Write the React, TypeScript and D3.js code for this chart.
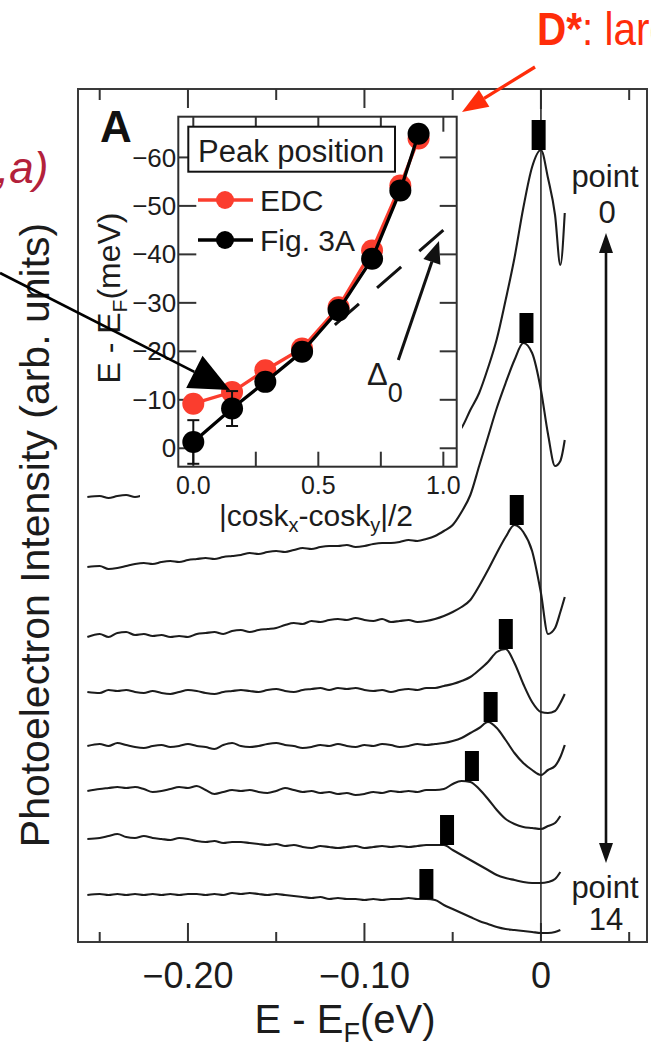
import React from "react";
import * as d3 from "d3";

// ---------- data ----------
// shared energy grid (eV) for the EDC traces
const energies = [
  -0.257, -0.25, -0.245, -0.24, -0.235, -0.23, -0.225, -0.22, -0.215, -0.21,
  -0.205, -0.2, -0.195, -0.19, -0.185, -0.18, -0.175, -0.17, -0.165, -0.16,
  -0.155, -0.15, -0.145, -0.14, -0.135, -0.13, -0.125, -0.12, -0.115, -0.11,
  -0.105, -0.1, -0.095, -0.09, -0.085, -0.08, -0.075, -0.07, -0.065, -0.06,
  -0.055, -0.05, -0.045, -0.04, -0.035, -0.03, -0.025, -0.02, -0.015, -0.01,
  -0.005, 0.0, 0.004, 0.008, 0.011, 0.0135,
];

// EDC intensities (arb. units, offset stacked), points 0 .. 14
const point0 = [445, 446, 444, 446, 447, 445, 447, 448, 448, 450, 450, 451, 452, 453, 453, 455, 455, 456, 457, 458, 458, 460, 461, 462, 463, 464, 465, 466, 467, 468, 469, 470, 471, 472, 474, 476, 478, 481, 485, 491, 498, 506, 514, 532, 549, 574, 603, 642, 684, 734, 775, 792, 764, 727, 677, 729];
const point2 = [375, 376, 373, 374, 376, 378, 379, 378, 380, 381, 380, 382, 383, 384, 383, 385, 386, 387, 389, 388, 390, 391, 390, 392, 394, 393, 395, 396, 396, 397, 395, 396, 398, 399, 399, 400, 402, 401, 403, 406, 411, 417, 430, 447, 476, 505, 534, 559, 582, 599, 589, 552, 508, 476, 481, 502];
const point4 = [305, 308, 305, 309, 310, 307, 308, 306, 307, 305, 306, 305, 308, 309, 310, 308, 311, 312, 310, 312, 313, 314, 317, 319, 318, 321, 320, 322, 323, 322, 324, 322, 321, 323, 320, 321, 322, 320, 321, 323, 326, 330, 335, 342, 356, 372, 389, 405, 417, 410, 391, 349, 308, 314, 330, 345];
const point6 = [250, 249, 252, 251, 252, 250, 249, 251, 249, 248, 250, 252, 251, 249, 248, 250, 251, 252, 251, 250, 252, 253, 251, 250, 252, 253, 254, 252, 254, 253, 254, 252, 251, 252, 250, 252, 253, 252, 254, 254, 256, 258, 261, 265, 272, 280, 290, 293, 279, 258, 240, 230, 229, 231, 239, 248];
const point8 = [196, 198, 196, 199, 197, 195, 194, 196, 197, 195, 196, 198, 196, 195, 193, 197, 199, 196, 195, 196, 198, 199, 197, 196, 194, 195, 197, 196, 198, 196, 195, 197, 196, 198, 197, 195, 196, 198, 197, 198, 199, 201, 204, 209, 214, 220, 214, 202, 189, 179, 172, 167, 172, 176, 185, 197];
const point10 = [151, 153, 154, 155, 154, 155, 153, 150, 151, 153, 155, 154, 156, 152, 148, 150, 152, 151, 152, 150, 149, 151, 154, 152, 150, 151, 149, 150, 148, 149, 147, 148, 150, 149, 151, 150, 151, 150, 152, 152, 153, 158, 161, 160, 153, 143, 132, 123, 118, 115, 114, 113, 116, 119, 126, null];
const point12 = [103, 104, 106, 108, 105, 104, 106, 104, 103, 102, 104, 103, 101, 100, 101, 99, 100, 100, 99, 98, 97, 98, 96, 97, 95, 94, 96, 95, 94, 95, 96, 94, 95, 96, 95, 96, 95, 96, 97, 97, 97, 92, 87, 82, 77, 72, 67, 64, 62, 60, 59, 59, 60, 63, 70, null];
const point14 = [47, 48, 47, 48, 47, 48, 47, 48, 47, 48, 47, 48, 48, 47, 48, 47, 49, 48, 49, 48, 47, 48, 47, 46, 45, 44, 45, 43, 44, 43, 43, 42, 43, 42, 43, 43, 44, 43, 43, 42, 37, 33, 29, 25, 21, 18, 15, 13, 12, 11, 10, 9, 9, 10, 12, null];
const traces = [point0, point2, point4, point6, point8, point10, point12, point14];

// inset: peak position vs |cos kx - cos ky|/2
const kFactor = [0.0, 0.155, 0.288, 0.435, 0.581, 0.715, 0.828, 0.901];
const peakFig3A = [-1.3, -8.2, -13.7, -19.9, -28.5, -39.1, -53.2, -64.9];
const peakEDC = [-9.2, -11.6, -16.1, -20.6, -29.1, -40.8, -54.2, -63.9];
const peakErr = [4.5, 3.6, 0, 0, 0, 0, 0, 0];
const delta0 = 45; // meV, d-wave line
const deltaLineK = [0.5, 1.0];

// ticks
const mainMajor = [-0.2, -0.1, 0];
const mainMinor = [-0.25, -0.15, -0.05, 0.05];
const mainTickLabels = ["\u22120.20", "\u22120.10", "0"];
const insetYTicks = [-60, -50, -40, -30, -20, -10, 0];
const insetXTicks = [0, 0.5, 1.0];
const insetXMinor = [0.25, 0.75];

// ---------- styles ----------
const FONT = "'Liberation Sans', Arial, Helvetica, sans-serif";
const INK = "#1c1c1c";
const RED = "#fb3d2e";
const BRIGHT_RED = "#ff2d0a";
const DARK_RED = "#b3213b";

function head(x1: number, y1: number, x2: number, y2: number, len: number, hw: number) {
  const dx = x2 - x1, dy = y2 - y1;
  const L = Math.hypot(dx, dy);
  const ux = dx / L, uy = dy / L;
  const bx = x2 - ux * len, by = y2 - uy * len;
  return {
    pts: `${x2},${y2} ${bx + uy * hw},${by - ux * hw} ${bx - uy * hw},${by + ux * hw}`,
    bx,
    by,
  };
}

export default function App() {
  const W = 651, H = 1047;
  const L = 78, T = 89, R = 647, B = 942;
  const x = d3.scaleLinear().domain([-0.2623, 0.0601]).range([L, R]);
  const y = d3.scaleLinear().domain([0, 853]).range([B, T]);

  const line = d3
    .line<[number, number | null]>()
    .defined((d) => d[1] !== null)
    .x((d) => x(d[0]))
    .y((d) => y(d[1] as number))
    .curve(d3.curveMonotoneX);

  // inset scales
  const iL = 178.3, iR = 456.7, iT = 116.7, iB = 466.7;
  const ix = d3.scaleLinear().domain([-0.06, 1.0534]).range([iL, iR]);
  const iy = d3.scaleLinear().domain([3.8, -68.4]).range([iB, iT]);
  const iline = d3
    .line<[number, number]>()
    .x((d) => ix(d[0]))
    .y((d) => iy(d[1]));

  const markers = traces.map((tr, i) => {
    const e = peakFig3A[i] / 1000;
    let best = -Infinity;
    energies.forEach((en, j) => {
      const v = tr[j];
      if (v !== null && Math.abs(en - e) <= 0.006 && v > best) best = v;
    });
    return { cx: x(e), yb: y(best) };
  });

  const redArrow = head(535, 67, 462, 112, 26, 10);
  const blackArrow = head(0, 273, 230, 390, 40, 18);
  const deltaArrow = head(398.3, 360, 439, 241, 22, 9);
  const upHead = head(606, 300, 606, 233, 20, 7);
  const downHead = head(606, 800, 606, 863, 20, 7);

  return (
    <svg
      width={W}
      height={H}
      viewBox={`0 0 ${W} ${H}`}
      style={{ position: "absolute", left: 0, top: 0, background: "#fff" }}
      fontFamily={FONT}
    >
      <rect x={0} y={0} width={W} height={H} fill="#fff" />

      {/* main frame */}
      <rect x={L} y={T} width={R - L} height={B - T} fill="none" stroke="#3a3a3a" strokeWidth={2} />
      {mainMajor.map((t) => (
        <g key={"M" + t}>
          <line x1={x(t)} x2={x(t)} y1={T} y2={T + 20} stroke="#333" strokeWidth={2} />
          <line x1={x(t)} x2={x(t)} y1={B} y2={B - 19} stroke="#333" strokeWidth={2} />
        </g>
      ))}
      {mainMinor.map((t) => (
        <g key={"m" + t}>
          <line x1={x(t)} x2={x(t)} y1={T} y2={T + 11} stroke="#333" strokeWidth={2} />
          <line x1={x(t)} x2={x(t)} y1={B} y2={B - 10} stroke="#333" strokeWidth={2} />
        </g>
      ))}
      {/* E = EF line */}
      <line x1={x(0)} x2={x(0)} y1={T} y2={B} stroke="#2a2a2a" strokeWidth={1.6} />

      {/* EDC traces */}
      {traces.map((tr, i) => (
        <path
          key={"tr" + i}
          d={line(energies.map((e, j) => [e, tr[j]] as [number, number | null])) || ""}
          fill="none"
          stroke={INK}
          strokeWidth={2.1}
        />
      ))}
      {markers.map((m, i) => (
        <rect key={"mk" + i} x={m.cx - 7} y={m.yb - 30} width={14} height={30} fill="#000" />
      ))}

      {/* tick labels main */}
      {mainMajor.map((t, i) => (
        <text key={"tl" + t} x={x(t)} y={988} fontSize={36} textAnchor="middle" fill={INK}>
          {mainTickLabels[i]}
        </text>
      ))}
      <text x={345} y={1033} fontSize={40} textAnchor="middle" fill={INK}>
        E - E<tspan fontSize={27} dy={9}>F</tspan>
        <tspan dy={-9}>(eV)</tspan>
      </text>
      <text transform="translate(49,535) rotate(-90)" fontSize={41} textAnchor="middle" fill={INK}>
        Photoelectron Intensity (arb. units)
      </text>

      {/* point labels and double arrow */}
      <text x={605} y={187} fontSize={31} textAnchor="middle" fill={INK}>point</text>
      <text x={607} y={223} fontSize={31} textAnchor="middle" fill={INK}>0</text>
      <line x1={606} x2={606} y1={upHead.by} y2={downHead.by} stroke="#111" strokeWidth={2.6} />
      <polygon points={upHead.pts} fill="#111" />
      <polygon points={downHead.pts} fill="#111" />
      <text x={605} y={898} fontSize={31} textAnchor="middle" fill={INK}>point</text>
      <text x={606} y={930} fontSize={31} textAnchor="middle" fill={INK}>14</text>

      {/* inset background (covers traces) */}
      <rect x={140} y={108} width={322} height={362} fill="#fff" />
      <rect x={140} y={470} width={300} height={62} fill="#fff" />

      {/* inset */}
      <rect x={iL} y={iT} width={iR - iL} height={iB - iT} fill="#fff" stroke="#2e2e2e" strokeWidth={2} />
      {insetYTicks.map((t) => (
        <g key={"iy" + t}>
          <line x1={iL} x2={iL + 18} y1={iy(t)} y2={iy(t)} stroke="#333" strokeWidth={2} />
          <line x1={iR} x2={iR - 17} y1={iy(t)} y2={iy(t)} stroke="#333" strokeWidth={2} />
          <text x={iL - 2} y={iy(t)} dy="0.35em" fontSize={26} textAnchor="end" fill={INK}>
            {t === 0 ? "0" : "\u2212" + Math.abs(t)}
          </text>
        </g>
      ))}
      {[...insetXTicks, ...insetXMinor].map((t) => (
        <g key={"ix" + t}>
          <line x1={ix(t)} x2={ix(t)} y1={iB} y2={iB - 15} stroke="#333" strokeWidth={2} />
          <line x1={ix(t)} x2={ix(t)} y1={iT} y2={iT + 15} stroke="#333" strokeWidth={2} />
        </g>
      ))}
      {insetXTicks.map((t) => (
        <text key={"ixl" + t} x={ix(t)} y={494} fontSize={25} textAnchor="middle" fill={INK}>
          {t.toFixed(1)}
        </text>
      ))}
      <text x={316} y={526} fontSize={30} textAnchor="middle" fill={INK}>
        |cosk<tspan fontSize={20} dy={6}>x</tspan>
        <tspan dy={-6}>-cosk</tspan>
        <tspan fontSize={20} dy={6}>y</tspan>
        <tspan dy={-6}>|/2</tspan>
      </text>
      <text transform="translate(120,298) rotate(-90)" fontSize={32} textAnchor="middle" fill={INK}>
        E - E<tspan fontSize={21} dy={7}>F</tspan>
        <tspan dy={-7}>(meV)</tspan>
      </text>
      <text x={100} y={142} fontSize={44} fontWeight="bold" fill="#111">A</text>

      {/* d-wave dashed line */}
      <path
        d={iline([
          [deltaLineK[1], -delta0 * deltaLineK[1]],
          [deltaLineK[0], -delta0 * deltaLineK[0]],
        ] as [number, number][]) || ""}
        stroke="#111"
        strokeWidth={3}
        strokeDasharray="32 24"
        fill="none"
      />

      {/* EDC series */}
      <path
        d={iline(kFactor.map((k, i) => [k, peakEDC[i]] as [number, number])) || ""}
        stroke={RED}
        strokeWidth={3.3}
        fill="none"
      />
      {kFactor.map((k, i) => (
        <circle key={"re" + i} cx={ix(k)} cy={iy(peakEDC[i])} r={11} fill={RED} />
      ))}
      {/* Fig. 3A series */}
      {kFactor.map((k, i) =>
        peakErr[i] > 0 ? (
          <g key={"er" + i} stroke="#111" strokeWidth={2}>
            <line x1={ix(k)} x2={ix(k)} y1={iy(peakFig3A[i] - peakErr[i])} y2={iy(peakFig3A[i] + peakErr[i])} />
            <line x1={ix(k) - 6} x2={ix(k) + 6} y1={iy(peakFig3A[i] - peakErr[i])} y2={iy(peakFig3A[i] - peakErr[i])} />
            <line x1={ix(k) - 6} x2={ix(k) + 6} y1={iy(peakFig3A[i] + peakErr[i])} y2={iy(peakFig3A[i] + peakErr[i])} />
          </g>
        ) : null
      )}
      <path
        d={iline(kFactor.map((k, i) => [k, peakFig3A[i]] as [number, number])) || ""}
        stroke="#000"
        strokeWidth={3.3}
        fill="none"
      />
      {kFactor.map((k, i) => (
        <circle key={"bk" + i} cx={ix(k)} cy={iy(peakFig3A[i])} r={11} fill="#000" />
      ))}

      {/* legend */}
      <rect x={188.3} y={126.7} width={206.7} height={45} fill="#fff" stroke="#111" strokeWidth={2} />
      <text x={198} y={162} fontSize={31} fill={INK}>Peak position</text>
      <line x1={198} x2={253} y1={200} y2={200} stroke={RED} strokeWidth={3.3} />
      <circle cx={225} cy={200} r={9} fill={RED} />
      <text x={260} y={211} fontSize={30} fill={INK}>EDC</text>
      <line x1={198} x2={253} y1={240} y2={240} stroke="#000" strokeWidth={3.3} />
      <circle cx={225} cy={240} r={9} fill="#000" />
      <text x={260} y={251} fontSize={30} fill={INK}>Fig. 3A</text>

      {/* Delta_0 annotation */}
      <line x1={398.3} y1={360} x2={deltaArrow.bx} y2={deltaArrow.by} stroke="#111" strokeWidth={3} />
      <polygon points={deltaArrow.pts} fill="#111" />
      <text x={367} y={385} fontSize={31} fill={INK}>
        Δ<tspan fontSize={27} dy={17}>0</tspan>
      </text>

      {/* external annotations */}
      <line x1={0} y1={273} x2={blackArrow.bx} y2={blackArrow.by} stroke="#000" strokeWidth={2.7} />
      <polygon points={blackArrow.pts} fill="#000" />
      <text x={-3} y={183} fontSize={44} fontStyle="italic" fill={DARK_RED}>,a)</text>

      <line x1={535} y1={67} x2={redArrow.bx} y2={redArrow.by} stroke={BRIGHT_RED} strokeWidth={3.3} />
      <polygon points={redArrow.pts} fill={BRIGHT_RED} />
      <text transform="translate(537,45) scale(0.88,1)" fontSize={46} fill={BRIGHT_RED}>
        <tspan fontWeight="bold">D*</tspan>: large
      </text>
    </svg>
  );
}
